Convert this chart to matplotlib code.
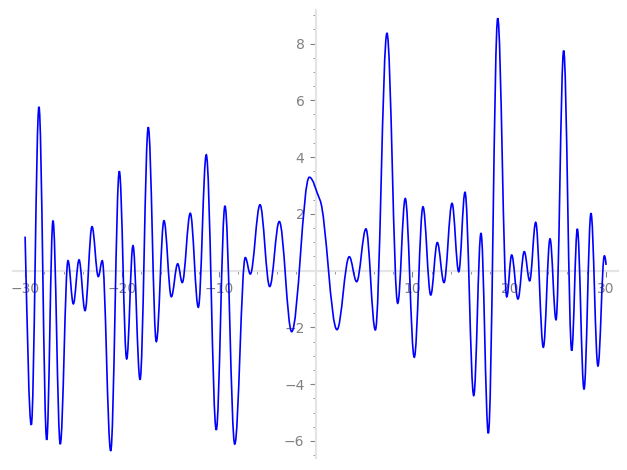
import matplotlib
matplotlib.use("Agg")
import matplotlib.pyplot as plt
from matplotlib.path import Path
from matplotlib.patches import PathPatch
from matplotlib.ticker import MultipleLocator

# turning points of the curve (x, y, slope there)
curve_x = [-30.0, -29.36, -28.57, -27.77, -27.12, -26.37, -25.57, -25.02, -24.43, -23.81,
           -23.09, -22.44, -22.03, -21.16, -20.27, -19.51, -18.86, -18.13, -17.28, -16.45,
           -15.66, -14.90, -14.24, -13.77, -12.94, -12.11, -11.29, -10.26, -9.36, -8.35,
           -7.26, -6.74, -5.74, -4.74, -3.75, -2.47, -0.65, 0.45, 2.21, 3.48,
           4.24, 5.20, 6.17, 7.37, 8.48, 9.26, 10.19, 11.09, 11.89, 12.57,
           13.26, 14.09, 14.78, 15.43, 16.33, 17.08, 17.84, 18.81, 19.74, 20.25,
           20.90, 21.55, 22.11, 22.73, 23.52, 24.21, 24.83, 25.62, 26.45, 27.03,
           27.72, 28.44, 29.16, 29.82, 30.0]
curve_y = [1.20, -5.43, 5.77, -5.96, 1.76, -6.11, 0.35, -1.17, 0.38, -1.41,
           1.55, -0.21, 0.35, -6.35, 3.50, -3.11, 0.88, -3.84, 5.05, -2.50,
           1.76, -0.92, 0.24, -0.42, 2.02, -1.29, 4.08, -5.61, 2.28, -6.11,
           0.46, -0.12, 2.32, -0.56, 1.73, -2.15, 3.29, 2.49, -2.08, 0.49,
           -0.39, 1.47, -2.09, 8.36, -1.15, 2.54, -3.05, 2.25, -0.86, 0.99,
           -0.42, 2.37, -0.04, 2.76, -4.40, 1.32, -5.73, 8.89, -0.92, 0.55,
           -1.00, 0.67, -0.36, 1.70, -2.70, 1.12, -1.73, 7.75, -2.82, 1.47,
           -4.18, 2.02, -3.36, 0.52, 0.20]
curve_slope = [0.0] * len(curve_x)
curve_slope[0] = -14.0
curve_slope[37] = -0.75
curve_slope[-1] = -3.5

fig = plt.figure(figsize=(6.27, 4.70), dpi=100)
ax = fig.add_axes([13 / 627, 12 / 470, 605 / 627, 448 / 470])

# smooth the curve between turning points with cubic bezier pieces
verts = [(curve_x[0], curve_y[0])]
codes = [Path.MOVETO]
c = 0.364
for i in range(len(curve_x) - 1):
    x0, y0, m0 = curve_x[i], curve_y[i], curve_slope[i]
    x1, y1, m1 = curve_x[i + 1], curve_y[i + 1], curve_slope[i + 1]
    h = c * (x1 - x0)
    verts += [(x0 + h, y0 + m0 * h), (x1 - h, y1 - m1 * h), (x1, y1)]
    codes += [Path.CURVE4] * 3
ax.add_patch(PathPatch(Path(verts, codes), fill=False, edgecolor="#0000ff",
                       lw=1.2, zorder=3))

ax.set_xlim(-31.25, 31.23)
ax.set_ylim(-6.6, 9.18)

for side in ["top", "right"]:
    ax.spines[side].set_visible(False)
ax.spines["left"].set_position(("data", 0))
ax.spines["bottom"].set_position(("data", 0))
for side in ["left", "bottom"]:
    ax.spines[side].set_color("#e4e4e4")
    ax.spines[side].set_linewidth(1.6)

ax.xaxis.set_major_locator(MultipleLocator(10))
ax.xaxis.set_minor_locator(MultipleLocator(2))
ax.yaxis.set_major_locator(MultipleLocator(2))
ax.yaxis.set_minor_locator(MultipleLocator(0.5))
ax.set_yticks([-6, -4, -2, 2, 4, 6, 8])
ax.set_xticks([-30, -20, -10, 10, 20, 30])
ax.tick_params(which="major", length=4, width=0.8, color="#808080",
               labelcolor="#808080", labelsize=10, pad=4, direction="out")
ax.tick_params(which="minor", length=2, width=0.6, color="#808080", direction="out")

fig.savefig("out.png", dpi=100)
